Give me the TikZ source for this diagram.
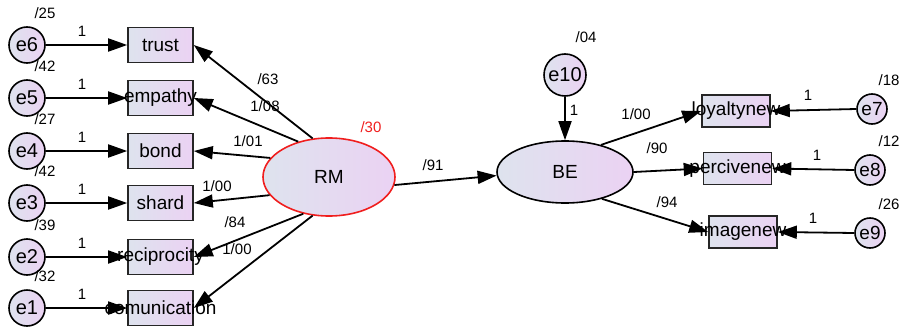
\documentclass[tikz,border=0pt]{standalone}
\usepackage{fontspec}
\setmainfont{Liberation Sans}
\usetikzlibrary{arrows.meta,shapes.geometric}

\definecolor{fillA}{RGB}{222,227,238}
\definecolor{fillB}{RGB}{235,210,243}
\definecolor{rmred}{RGB}{240,30,30}

\tikzset{
  shade box/.style={left color=fillA, right color=fillB},
  latent/.style={ellipse, draw=black, line width=1.6pt, shade box, inner sep=0pt},
  obsbox/.style={rectangle, draw=black!85, line width=1.6pt, shade box,
                 minimum width=65pt, minimum height=35pt, inner sep=0pt},
  errc/.style={circle, draw=black, line width=1.6pt, shade box,
               minimum size=36pt, inner sep=0pt, font=\fontsize{20}{20}\selectfont},
  errs/.style={errc, minimum size=30pt, font=\fontsize{19}{19}\selectfont},
  boxtext/.style={font=\fontsize{19}{19}\selectfont, inner sep=0pt},
  num/.style={font=\fontsize{15}{15}\selectfont, inner sep=0pt},
  arr/.style={line width=1.8pt, -{Triangle[length=19pt,width=13pt]}},
}

\begin{document}
\begin{tikzpicture}[x=1pt,y=-1pt]
\useasboundingbox (0,0) rectangle (901,329);

% left block: indicators of RM with their error terms
\foreach \nm/\txt/\err/\var/\yy in {
    trust/trust/e6/25/45,
    empathy/empathy/e5/42/98,
    bond/bond/e4/27/151,
    shard/shard/e3/42/203,
    recip/reciprocity/e2/39/257,
    comm/comunication/e1/32/308}{
  \node[obsbox] (\nm) at (160.5,\yy) {};
  \node[boxtext] (\nm T) at (\nm) {\txt};
  \node[errc] (\err) at (27,\yy) {\err};
  \node[num] (\err V) at (45,\yy-32) {/\var};
  \draw[arr] (\err.east) -- (\nm.west) node[num] at (82,\yy-14) {1};
}

% latent variables
\node[latent, draw=rmred, minimum width=132pt, minimum height=78pt,
      font=\fontsize{19}{19}\selectfont] (RM) at (329,177) {RM};
\node[num, text=rmred] (RMV) at (371,127) {/30};
\node[latent, minimum width=136pt, minimum height=62pt,
      font=\fontsize{19}{19}\selectfont] (BE) at (565,172) {BE};

% structural disturbance
\node[errc, minimum size=42pt] (e10) at (565,75) {e10};
\node[num] (e10V) at (586,37) {/04};
\draw[arr] (e10.south) -- (BE.north) node[num] at (574,110) {1};

% loadings of RM
\draw[arr] (RM.113) -- (trust.east)  node[num] at (268,79)  {/63};
\draw[arr] (RM.131) -- (empathy.east) node[num] at (265,106) {1/08};
\draw[arr] (RM.162) -- (bond.east)   node[num] at (248,141) {1/01};
\draw[arr] (RM.197) -- (shard.east)  node[num] at (217,186) {1/00};
\draw[arr] (RM.235) -- (recip.east)  node[num] at (235,222) {/84};
\draw[arr] (RM.247) -- (comm.east)   node[num] at (237,249) {1/00};

% structural path
\draw[arr] (RM.-7) -- (BE.183) node[num] at (433,165) {/91};

% right block: indicators of BE with their error terms
\foreach \nm/\txt/\err/\var/\bx/\by/\ex/\ey/\lx/\ly in {
    loyal/loyaltynew/e7/18/736/111/872/109/808/95,
    perc/percivenew/e8/12/737.5/168.5/870/170/817/155,
    image/imagenew/e9/26/743/232/870/233/813/218}{
  \node[obsbox, minimum width=68pt, minimum height=32pt] (\nm) at (\bx,\by) {};
  \node[boxtext] (\nm T) at (\nm) {\txt};
  \node[errs] (\err) at (\ex,\ey) {\err};
  \node[num] (\err V) at (889,\ey-29) {/\var};
  \draw[arr] (\err.west) -- (\nm.east) node[num] at (\lx,\ly) {1};
}

\draw[arr] (BE.37)  -- (loyal.west) node[num] at (636,114) {1/00};
\draw[arr] (BE.east) -- (perc.west) node[num] at (657,148) {/90};
\draw[arr] (BE.-36) -- (image.west) node[num] at (667,202) {/94};
\end{tikzpicture}
\end{document}
